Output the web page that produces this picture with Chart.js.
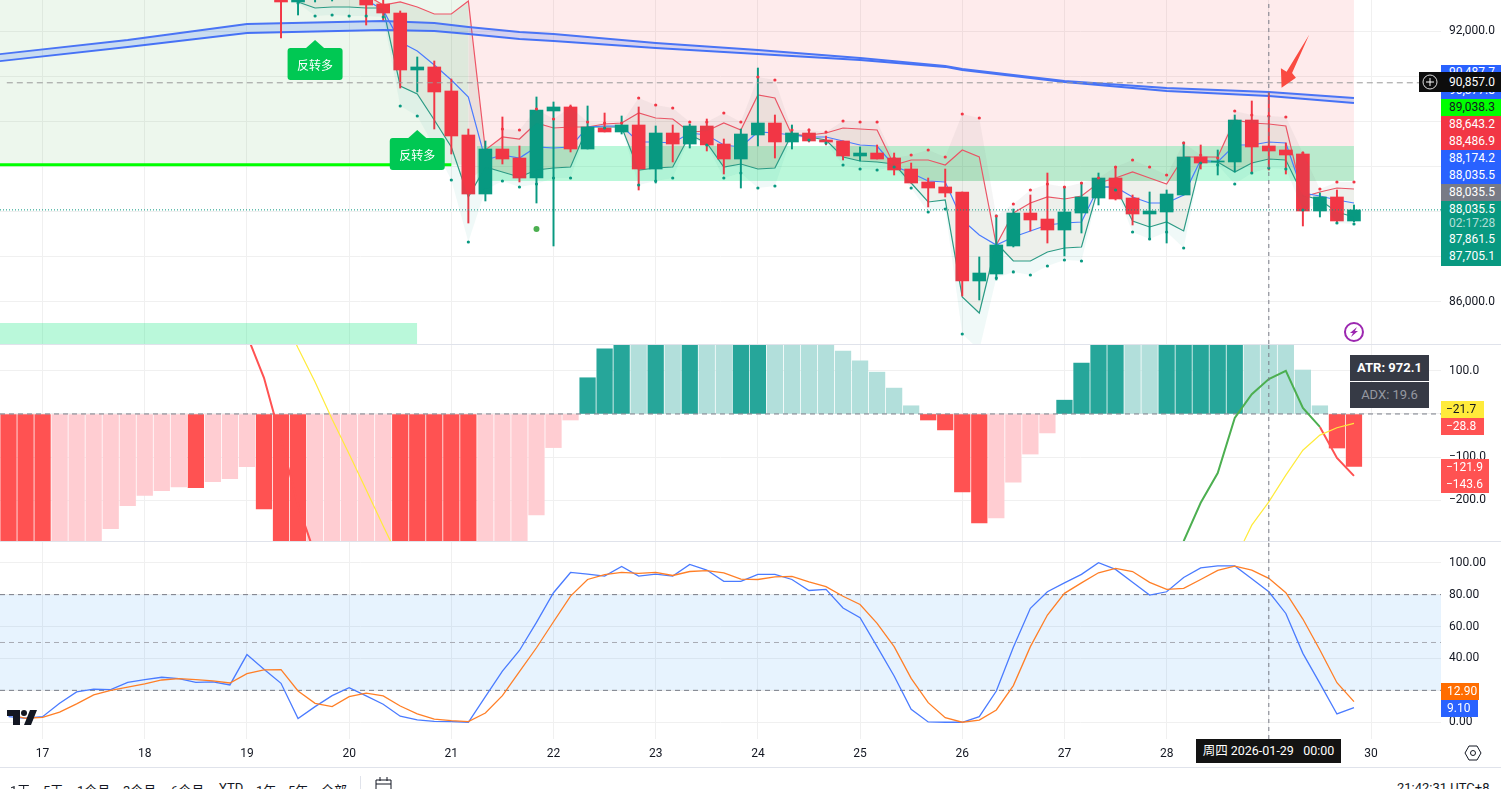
<!DOCTYPE html>
<html>
<head>
<meta charset="utf-8">
<title>BTC chart</title>
<script src="https://cdn.jsdelivr.net/npm/chart.js@4"></script>
<style>
html, body { margin: 0; padding: 0; background: #fff; overflow: hidden; width: 1501px; height: 789px; }
body { position: relative; font: 12px Roboto, "Noto Sans CJK SC", sans-serif; color: #131722; }
canvas { position: absolute; left: 0; }
.sep { position: absolute; left: 0; width: 1501px; height: 1px; background: #e0e3eb; }
.tag { position: absolute; left: 1441px; width: 52px; height: 17px; line-height: 17px; padding-left: 8px; color: #fff; white-space: nowrap; overflow: hidden; }
.blue { background: #2962ff; } .red { background: #f23645; } .teal { background: #089981; }
.low { background: #ff5252; width: 38px; padding-left: 5px; }
.info { position: absolute; left: 1350px; width: 79px; height: 26px; line-height: 26px; text-align: center; background: #363a45; font-size: 13px; }
.bar { position: absolute; top: 780px; font-size: 13px; white-space: nowrap; }
svg { position: absolute; }
</style>
</head>
<body>
<canvas id="priceCanvas" style="top:0" width="1501" height="344"></canvas>
<canvas id="macdCanvas" style="top:345px" width="1501" height="196"></canvas>
<canvas id="stochCanvas" style="top:542px" width="1501" height="225"></canvas>
<div class="sep" style="top:344px"></div>
<div class="sep" style="top:541px"></div>
<div class="sep" style="top:767px"></div>

<div class="tag blue" style="top:65px;line-height:14px">90,487.7</div>
<div class="tag blue" style="top:82px">90,377.8</div>
<div class="tag" style="top:99px;background:#00ff00;color:#131722">89,038.3</div>
<div class="tag red" style="top:116px">88,643.2</div>
<div class="tag red" style="top:133px">88,486.9</div>
<div class="tag blue" style="top:150px">88,174.2</div>
<div class="tag blue" style="top:167px">88,035.5</div>
<div class="tag" style="top:184px;background:#787b86">88,035.5</div>
<div class="tag teal" style="top:201px">88,035.5</div>
<div class="tag teal" style="top:215px;color:rgba(255,255,255,.7)">02:17:28</div>
<div class="tag teal" style="top:231px">87,861.5</div>
<div class="tag teal" style="top:248px;height:18px">87,705.1</div>
<div class="tag" style="top:72px;height:20px;line-height:20px;background:#0d0d0d">90,857.0</div>
<div style="position:absolute;left:1419px;top:72px;width:22px;height:20px;background:#0d0d0d"></div>
<svg style="left:1419px;top:72px" width="22" height="20"><circle cx="11" cy="10" r="7" fill="none" stroke="#ddd"/><path d="M11 6v8M7 10h8" stroke="#fff"/></svg>

<div class="info" style="top:355px;color:#fff;font-weight:700">ATR: 972.1</div>
<div class="info" style="top:382px;color:#9598a1">ADX: 19.6</div>
<div class="tag low" style="top:401px;background:#ffeb3b;color:#131722">−21.7</div>
<div class="tag low" style="top:418px">−28.8</div>
<div class="tag low" style="top:459px;width:43px">−121.9</div>
<div class="tag low" style="top:476px;width:43px">−143.6</div>

<div class="tag" style="top:683px;width:32px;padding-left:6px;background:#ff6d00">12.90</div>
<div class="tag" style="top:700px;width:31px;padding-left:6px;background:#2962ff">9.10</div>

<svg style="left:6px;top:709px" width="32" height="17"><path d="M1 1h13v15h-7v-9h-6zM24 1h7l-6 15h-7z" fill="#131722"/><circle cx="18" cy="4" r="3" fill="#131722"/></svg>
<svg style="left:1464px;top:744px" width="18" height="18"><path d="M5 2h8l4 7-4 7H5L1 9z" fill="none" stroke="#131722"/><circle cx="9" cy="9" r="2.5" fill="none" stroke="#131722"/></svg>
<div style="position:absolute;left:1196px;top:739px;width:145px;height:24px;line-height:24px;background:#131313;color:#fff;text-align:center;white-space:pre;font-size:12.5px">周四 2026-01-29   00:00</div>

<div class="bar" style="left:10px">1天</div>
<div class="bar" style="left:43px">5天</div>
<div class="bar" style="left:77px">1个月</div>
<div class="bar" style="left:123px">3个月</div>
<div class="bar" style="left:171px">6个月</div>
<div class="bar" style="left:219px">YTD</div>
<div class="bar" style="left:256px">1年</div>
<div class="bar" style="left:288px">5年</div>
<div class="bar" style="left:321px">全部</div>
<div style="position:absolute;left:360px;top:776px;width:1px;height:13px;background:#e0e3eb"></div>
<svg style="left:375px;top:777px" width="18" height="12"><path d="M1 12V3h15v9M1 7h15M5 0v4M12 0v4" fill="none" stroke="#131722"/></svg>
<div class="bar" style="left:1397px">21:42:31 UTC+8</div>

<script>
// x axis is the bar number, 6 bars a day
var xMin = -0.5;
var xMax = 84.11;
var dayTicks = [2, 8, 14, 20, 26, 32, 38, 44, 50, 56, 62, 68, 74, 80];
var dayLabels = ['17', '18', '19', '20', '21', '22', '23', '24', '25', '26', '27', '28', '', '30'];

// candles, first visible bar is 16
var candleStart = 16;
var opens = [92917,92651,92873,92917,93006,92961,92606,92406,91141,91208,90675,89698,88388,89387,89187,88743,90231,90320,89387,89853,89765,89920,88943,89742,89498,89898,89498,89165,89698,89964,89543,89742,89587,89565,89232,89298,89187,88943,88655,88544,88433,86457,86612,87234,87966,87833,87589,87966,88299,88743,88299,87944,87989,88366,89210,89099,89099,90031,89454,89365,89276,88011,88322,87789];
var closes = [92651,92873,93006,93050,92873,92584,92406,91141,91208,90653,89676,88388,89387,89165,88743,90253,90320,89387,89876,89765,89920,88943,89742,89498,89898,89476,89165,89720,89964,89543,89742,89565,89543,89232,89298,89165,88921,88632,88521,88410,86457,86634,87256,87966,87811,87589,87989,88322,88743,88277,87944,88011,88388,89210,89076,89121,90031,89432,89343,89254,88011,88322,87789,88035];
var highs = [93250,93028,93100,93150,93100,93050,92873,92451,91430,91341,90941,89831,89565,90098,89454,90542,90431,90364,90342,90186,90120,90320,89898,89920,89942,90053,89609,89831,91185,90142,89920,89831,89676,89565,89432,89476,89298,89076,88743,88943,88433,86990,87922,88055,88366,88854,88544,88632,88854,88988,88366,88433,88477,89543,89476,89365,90142,90453,90630,89520,89321,88411,88477,88144];
var lows = [91851,92362,92651,92673,92739,92140,92251,90741,90653,89831,89276,87744,88233,89054,88655,88188,87234,89321,89387,89765,89720,88477,88632,89099,89409,89343,88832,88521,89454,89187,89387,89543,89476,89143,89121,89165,88810,88632,88100,88322,86124,86035,86479,87212,87567,87300,87012,87522,88144,88255,87700,87411,87300,88366,88943,88810,88877,88854,88921,88832,87678,87878,87767,87767];

// price channel and its dots, from bar 17 (red dots from bar 29)
var channelStart = 17;
var channelUpper = [92873,92873,92873,92873,92806,92584,92651,92540,92384,92384,92673,89365,89654,89609,89964,89853,89876,89876,89942,89964,90186,90075,90053,89765,89787,89964,89809,90586,90519,89698,89698,89742,89853,89831,89809,89032,89143,89143,89032,89365,89210,87256,87966,88188,88322,88277,88344,88632,88743,88877,88743,88610,89210,89210,89210,90031,89964,89942,89898,88322,88433,88521,88499];
var channelMid = [92762,92762,92762,92762,92695,92473,91763,91563,91252,90919,90541,89143,89254,89187,89432,89409,89432,89876,89898,89898,89543,89543,89520,89742,89698,89476,89432,89765,89742,89698,89654,89654,89565,89476,89454,89010,88854,88677,88655,87811,87478,87256,87434,87567,87700,87744,87767,88544,88544,88322,88188,88188,88366,89143,89099,89476,89476,89543,89520,88411,88344,88255,88188];
var channelLower = [92651,92517,92540,92540,92517,92517,90786,90608,90031,89432,88322,88988,88877,88766,88921,88965,88988,89876,89876,89876,88921,88965,88988,89698,89520,88988,89054,88943,88965,89720,89654,89587,89210,89121,89099,89054,88632,88211,88255,86102,85746,87300,86901,86901,87101,87189,87212,88544,88544,87789,87656,87767,87567,89099,89099,88877,89076,89165,89143,88366,88255,87989,87878];
var greenDots = [92628,92340,92362,92340,92340,92318,90342,90120,89432,88699,87323,88477,88677,88544,88610,88743,88743,89853,89853,89853,88588,88677,88743,89654,89476,88743,88854,88521,88566,89676,89587,89520,89032,88943,88921,88988,88521,87989,88055,85280,84925,86523,86657,86590,86790,86923,86901,88477,88477,87545,87389,87545,87189,89076,89032,88610,88854,88965,88943,88033,88188,87744,87722];
var redDotStart = 29;
var redDots = [89831,89809,90275,90053,90320,89987,89964,89964,90519,90364,90297,89987,89987,90186,89987,90986,90919,89809,89809,89765,90009,89987,89987,89187,89254,89365,89210,90164,90075,87900,88166,88477,88610,88544,88632,88743,88988,89143,88988,88810,89520,89254,89187,90231,90142,90120,90098,89298,88499,88655,88655];

// long moving averages, sampled bars
var maBars = [-1, 7, 14, 22, 25, 27, 30, 32, 38, 44, 50, 55, 56, 62, 68, 74, 79];
var maUpper = [91474,91807,92162,92229,92184,92096,91985,91940,91740,91585,91407,91230,91163,90897,90741,90653,90519];
var maLower = [91319,91652,91962,92029,92007,91940,91829,91785,91629,91496,91363,91208,91141,90875,90675,90564,90408];

var lastPrice = 88035.5;
var crossPrice = 90857;
var supportPrice = 89038.3;
var zoneTop = 89454;
var zoneBottom = 88677;
var stripTop = 85524;
var stripBottom = 85058;
var priceTicks = [92000, 91000, 90000, 89000, 88000, 87000, 86000];
var priceLabelled = [92000, 86000];
var signalBars = [18, 24];
var signalPrices = [91807, 89809];
var signalText = '反转多';
var bigDotBar = 31;
var bigDotPrice = 87611;
var crossBar = 74;

// macd histogram, one value per bar from bar 0
var histValues = [-400,-400,-400,-400,-400,-400,-266,-213,-189,-178,-169,-171,-157,-150,-122,-220,-400,-400,-370,-350,-340,-330,-320,-400,-400,-400,-400,-400,-340,-320,-310,-234,-78,-14,84,151,170,170,170,170,170,170,170,170,170,170,170,170,170,146,123,97,60,19,-14,-37,-181,-253,-241,-158,-93,-44,32,118,170,170,170,170,170,170,170,170,170,170,170,170,102,19,-79,-121.9];
var histDark = [1,1,1,0,0,0,0,0,0,0,0,1,0,0,0,1,1,1,0,0,0,0,0,1,1,1,1,1,0,0,0,0,0,0,1,1,1,0,1,0,1,0,0,1,1,0,0,0,0,0,0,0,0,0,1,1,1,1,0,0,0,0,1,1,1,1,0,0,1,1,1,1,1,0,0,0,0,0,1,1];
var macdFallStart = 13;
var macdFall = [264, 183, 84, -60, -211, -327];
var macdRiseStart = 69;
var macdRise = [-295, -206, -137, -9, 46, 81, 100, 14, -30];
var macdLateStart = 77;
var macdLate = [-30, -102, -143.6];
var signalLeftStart = 16;
var signalLeft = [237, 153, 74, -12, -93, -176, -260, -341];
var signalRightStart = 72;
var signalRight = [-339, -258, -204, -142, -84, -49, -32, -21.7];
var macdTicks = [100, 0, -100, -200];

// stochastic, one value per bar from bar 0
var stochK = [3.5,2.5,3.5,11.9,19,20.7,20.5,25,26.7,28.2,27.3,25,25.3,23.4,42.4,33.2,24.4,2.3,9.8,16.7,21.7,16.5,11.3,3.8,1.5,0.6,0.4,0,16,32,45,62.6,81.2,93.9,92.9,91.6,97.7,91.6,92.9,91.6,98.9,95.4,88.3,88.3,92.7,92.7,89.5,82.6,83.3,71.6,65.5,47.4,29,8.1,0.2,0,0,3.5,19.6,47,71.4,81.8,87.4,92.7,100,95.8,87.7,79.7,81.8,90.8,96.8,98,98,90,81.8,68.2,43.2,24.4,5.2,9.1];
var stochD = [5,2.5,3.1,6.3,11.5,17.1,20,22,24,26.5,27.3,26.7,25.9,24.6,30.5,32.8,33,19.6,11.9,9.8,16,18.2,16.5,10.2,5.2,1.9,1,0.4,5.8,16.7,31.7,46.7,63,79.1,89.5,92.5,93.9,93.3,93.9,92,94.5,95,93.7,89.7,89.5,91.2,91.4,88,85,79,73.8,62,47.4,27.5,12.3,2.9,0,1.3,7.7,23,47.4,67.2,80.8,87.4,93.7,96.4,94.5,87.7,83.3,83.9,89.5,95.2,97.9,95.4,90.2,81.2,64.7,45.3,24.8,12.9];
var stochTicks = [100, 80, 60, 40, 20, 0];
var stochLabelled = [100, 80, 60, 40, 0];

var GREEN = '#089981', RED = '#f23645', GRID = '#f0f0f0', FONT = 'Roboto';

function fromBar(start, vals) {
    return vals.map(function (v, k) { return { x: start + k, y: v }; });
}
function flat(a, b, y) {
    return [{ x: a, y: y }, { x: b, y: y }];
}
function lineSet(data, color, width, extra) {
    return Object.assign({ type: 'line', data: data, borderColor: color, borderWidth: width, pointRadius: 0, tension: 0, fill: false }, extra || {});
}
function boxSet(a, b, top, bottom, color) {
    return lineSet(flat(a, b, top), 'transparent', 0, { fill: { value: bottom }, backgroundColor: color });
}
function dotSet(data, color, extra) {
    return lineSet(data, color, 0, Object.assign({ showLine: false, pointRadius: 1.6, pointBackgroundColor: color, pointBorderWidth: 0 }, extra || {}));
}

function scalesFor(yMin, yMax, yTicks, yLabel, showDays) {
    return {
        x: {
            type: 'linear', min: xMin, max: xMax, offset: false,
            grid: { color: GRID, offset: false, drawTicks: false },
            border: { display: false },
            afterBuildTicks: function (s) { s.ticks = dayTicks.map(function (v) { return { value: v }; }); },
            afterFit: function (s) { s.height = showDays ? 28 : 0; s.paddingLeft = 0; s.paddingRight = 0; },
            ticks: {
                display: showDays, autoSkip: false, maxRotation: 0, padding: 8,
                color: '#131722', font: { family: FONT, size: 12 },
                callback: function (v) { return dayLabels[dayTicks.indexOf(v)]; }
            }
        },
        y: {
            type: 'linear', position: 'right', min: yMin, max: yMax, beginAtZero: false,
            grid: { color: GRID, drawTicks: false },
            border: { display: false },
            afterBuildTicks: function (s) { s.ticks = yTicks.map(function (v) { return { value: v }; }); },
            afterFit: function (s) { s.width = 60; s.paddingTop = 0; s.paddingBottom = 0; },
            ticks: { autoSkip: false, padding: 8, color: '#131722', font: { family: FONT, size: 12 }, callback: yLabel }
        }
    };
}
function baseOptions(scales) {
    return {
        responsive: false, animation: false, events: [],
        layout: { padding: 0, autoPadding: false },
        plugins: { legend: { display: false }, tooltip: { enabled: false } },
        scales: scales
    };
}

// ---- price pane ----
var priceMax = 92695, priceMin = 85058;
var candleBars = opens.map(function (o, k) { return { x: candleStart + k, y: [o, closes[k]] }; });
var wickBars = highs.map(function (h, k) { return { x: candleStart + k, y: [lows[k], h] }; });
var candleColors = opens.map(function (o, k) { return closes[k] >= o ? GREEN : RED; });
var pinkBottom = fromBar(27, channelLower.slice(10).map(function (v) { return Math.max(v, zoneBottom); }));

var priceDatasets = [
    { type: 'bar', data: candleBars, backgroundColor: candleColors, barThickness: 13, grouped: false, order: 1 },
    { type: 'bar', data: wickBars, backgroundColor: candleColors, barThickness: 1.3, grouped: false, order: 2 },
    dotSet(fromBar(redDotStart, redDots), RED, { order: 0, fill: 8, backgroundColor: 'rgba(120,120,120,.07)' }),
    dotSet(fromBar(channelStart, greenDots), GREEN, { order: 0, fill: 9, backgroundColor: 'rgba(8,153,129,.06)' }),
    dotSet([{ x: bigDotBar, y: bigDotPrice }], '#4caf50', { order: 0, pointRadius: 3 }),
    lineSet(maBars.map(function (b, k) { return { x: b, y: maUpper[k] }; }), '#4a74f5', 1.8, { order: 3, fill: 6, backgroundColor: 'rgba(41,98,255,.18)' }),
    lineSet(maBars.map(function (b, k) { return { x: b, y: maLower[k] }; }), '#4a74f5', 1.8, { order: 3 }),
    lineSet(fromBar(channelStart, channelMid), '#4a7bff', 1.2, { order: 4 }),
    lineSet(fromBar(channelStart, channelUpper), '#ee5566', 1.2, { order: 4, fill: 9, backgroundColor: 'rgba(110,130,90,.12)' }),
    lineSet(fromBar(channelStart, channelLower), '#2a9d88', 1.2, { order: 4 }),
    lineSet(flat(xMin, 26, supportPrice), '#00ff00', 3, { order: 5 }),
    boxSet(xMin, 27, priceMax, supportPrice, 'rgba(76,175,80,.1)'),
    boxSet(27.5, 79, zoneTop, zoneBottom, 'rgba(0,230,118,.27)'),
    boxSet(xMin, 24, stripTop, stripBottom, 'rgba(0,230,118,.27)'),
    lineSet(flat(27, 79, priceMax), 'transparent', 0, { fill: 15, backgroundColor: 'rgba(242,54,69,.1)' }),
    lineSet(pinkBottom, 'transparent', 0),
    lineSet(flat(xMin, xMax, lastPrice), GREEN, 1, { borderDash: [1, 2], order: -1 }),
    lineSet(flat(xMin + 0.4, xMax, crossPrice), '#9a9a9a', 1, { borderDash: [6, 4], order: -1 }),
    lineSet([{ x: crossBar, y: priceMin }, { x: crossBar, y: priceMax }], '#787b86', 1, { borderDash: [4, 4], order: -1 })
];
// boxes sit behind everything else
[11, 12, 13, 14, 15].forEach(function (i) { priceDatasets[i].order = 9; });

var priceDecor = {
    id: 'priceDecor',
    afterDatasetsDraw: function (chart) {
        var c = chart.ctx, xs = chart.scales.x, ys = chart.scales.y;
        c.save();
        // signal bubbles
        signalBars.forEach(function (b, k) {
            var x = xs.getPixelForValue(b), y = ys.getPixelForValue(signalPrices[k]);
            c.fillStyle = '#00c853';
            c.beginPath();
            c.moveTo(x, y); c.lineTo(x + 9, y + 8); c.lineTo(x - 9, y + 8); c.closePath(); c.fill();
            c.beginPath();
            c.roundRect(x - 27.5, y + 8, 55, 32, 3); c.fill();
            c.fillStyle = '#fff';
            c.font = '12px "Noto Sans CJK SC"';
            c.textAlign = 'center'; c.textBaseline = 'middle';
            c.fillText(signalText, x, y + 25);
        });
        // red arrow pointing at the high
        var tx = xs.getPixelForValue(74.75), ty = ys.getPixelForValue(90748);
        c.fillStyle = '#fa4b41';
        c.beginPath();
        c.moveTo(tx, ty); c.lineTo(tx - 0.7, ty - 19.4); c.lineTo(tx + 5, ty - 16);
        c.lineTo(tx + 27.6, ty - 53); c.lineTo(tx + 10.5, ty - 14.7); c.lineTo(tx + 14.3, ty - 10); c.closePath(); c.fill();
        // alert badge
        var bx = xs.getPixelForValue(79), by = ys.getPixelForValue(85325);
        c.strokeStyle = '#9c27b0'; c.lineWidth = 2;
        c.beginPath(); c.arc(bx, by, 9, 0, Math.PI * 2); c.stroke();
        c.fillStyle = '#9c27b0';
        c.beginPath();
        c.moveTo(bx + 3, by - 5); c.lineTo(bx - 4, by + 1); c.lineTo(bx - 1, by + 1);
        c.lineTo(bx - 3, by + 5); c.lineTo(bx + 4, by - 1); c.lineTo(bx + 1, by - 1); c.closePath(); c.fill();
        c.restore();
    }
};

new Chart(document.getElementById('priceCanvas').getContext('2d'), {
    type: 'bar',
    data: { datasets: priceDatasets },
    options: baseOptions(scalesFor(priceMin, priceMax, priceTicks, function (v) {
        return priceLabelled.indexOf(v) >= 0 ? v.toLocaleString('en-US', { minimumFractionDigits: 1 }) : '';
    }, false)),
    plugins: [priceDecor]
});

// ---- macd pane ----
var macdMax = 160, macdMin = -294.7;
var histColors = histValues.map(function (v, k) {
    if (v >= 0) return histDark[k] ? '#26a69a' : '#b2dfdb';
    return histDark[k] ? '#ff5252' : '#ffcdd2';
});
new Chart(document.getElementById('macdCanvas').getContext('2d'), {
    type: 'bar',
    data: {
        datasets: [
            lineSet([{ x: crossBar, y: macdMin }, { x: crossBar, y: macdMax }], '#787b86', 1, { borderDash: [4, 4], order: 0 }),
            lineSet(fromBar(signalLeftStart, signalLeft), '#ffeb3b', 1.2, { order: 1 }),
            lineSet(fromBar(signalRightStart, signalRight), '#ffeb3b', 1.2, { order: 1 }),
            lineSet(fromBar(macdFallStart, macdFall), '#ff5252', 2, { order: 1 }),
            lineSet(fromBar(macdRiseStart, macdRise), '#4caf50', 2, { order: 1 }),
            lineSet(fromBar(macdLateStart, macdLate), '#ff5252', 2, { order: 1 }),
            lineSet(flat(xMin, xMax, 0), '#787b86', 1, { borderDash: [5, 4], order: 2 }),
            { type: 'bar', data: fromBar(0, histValues), backgroundColor: histColors, barThickness: 15.6, grouped: false, order: 3 }
        ]
    },
    options: baseOptions(scalesFor(macdMin, macdMax, macdTicks, function (v) {
        return v === 0 ? '' : (v < 0 ? '−' : '') + Math.abs(v).toFixed(1);
    }, false))
});

// ---- stochastic pane ----
var stochMax = 113, stochMin = -10.5;
new Chart(document.getElementById('stochCanvas').getContext('2d'), {
    type: 'line',
    data: {
        datasets: [
            lineSet([{ x: crossBar, y: stochMin }, { x: crossBar, y: stochMax }], '#787b86', 1, { borderDash: [4, 4] }),
            lineSet(fromBar(0, stochD), '#ff7f27', 1.3),
            lineSet(fromBar(0, stochK), '#4a7bff', 1.3),
            lineSet(flat(xMin, xMax, 80), '#787b86', 1, { borderDash: [5, 4] }),
            lineSet(flat(xMin, xMax, 50), '#a8acb5', 1, { borderDash: [5, 4] }),
            lineSet(flat(xMin, xMax, 20), '#787b86', 1, { borderDash: [5, 4] }),
            boxSet(xMin, xMax, 80, 20, 'rgba(33,150,243,.11)')
        ]
    },
    options: baseOptions(scalesFor(stochMin, stochMax, stochTicks, function (v) {
        return stochLabelled.indexOf(v) >= 0 ? v.toFixed(2) : '';
    }, true))
});
</script>
</body>
</html>
